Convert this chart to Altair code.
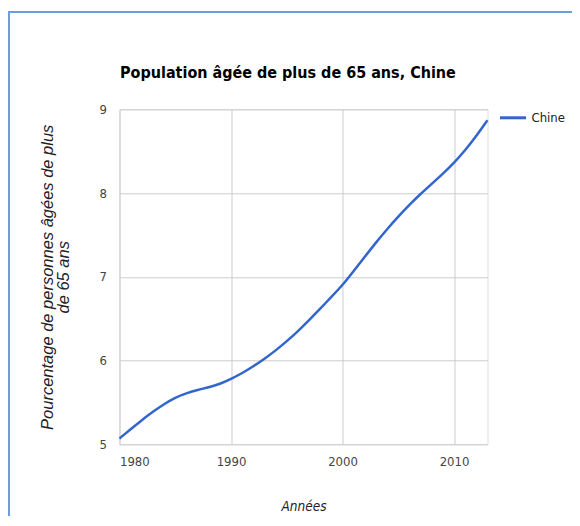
import altair as alt
import pandas as pd

years = list(range(1980, 2014))
values = [5.07, 5.18, 5.29, 5.39, 5.48, 5.56, 5.61, 5.65, 5.68, 5.72,
          5.78, 5.85, 5.93, 6.02, 6.12, 6.23, 6.35, 6.48, 6.62, 6.76,
          6.90, 7.07, 7.24, 7.41, 7.57, 7.72, 7.86, 7.99, 8.11, 8.23,
          8.36, 8.51, 8.68, 8.87]
series = ["Chine"] * len(years)
x_ticks = [1980, 1990, 2000, 2010]
y_ticks = [5, 6, 7, 8, 9]
chart_title = "Population âgée de plus de 65 ans, Chine"
x_title = "Années"
y_title = ["Pourcentage de personnes âgées de plus", "de 65 ans"]

df = pd.DataFrame({"year": years, "value": values, "series": series})

NARROW = "DejaVu Sans Condensed, Liberation Sans Narrow, Arial Narrow, sans-serif"

line = alt.Chart(df).mark_line(interpolate="basis", strokeWidth=2.5).encode(
    x=alt.X("year:Q",
            scale=alt.Scale(domain=[1980, 2013], nice=False, zero=False),
            axis=alt.Axis(values=x_ticks, format="d", title=x_title,
                          titleFontStyle="italic", titleFontWeight="normal",
                          titleFont=NARROW, titleFontSize=13.5, titleColor="#222222",
                          titlePadding=31,
                          labelFont=NARROW, labelFontSize=13, labelColor="#444444",
                          labelPadding=11, ticks=False, domain=False,
                          gridColor="#cccccc")),
    y=alt.Y("value:Q",
            scale=alt.Scale(domain=[5, 9], nice=False, zero=False),
            axis=alt.Axis(values=y_ticks, title=y_title,
                          titleFontStyle="italic", titleFontWeight="normal",
                          titleFont="Liberation Sans, Arial, sans-serif", titleFontSize=16.5,
                          titleColor="#222222", titleLineHeight=16,
                          titleX=-80, titleY=167.5, titleAngle=270, titleBaseline="top",
                          titleAlign="center",
                          labelFont=NARROW, labelFontSize=13, labelColor="#444444",
                          labelPadding=13, ticks=False, domain=False,
                          gridColor="#cccccc")),
    color=alt.Color("series:N", scale=alt.Scale(range=["#3366cc"]),
                    legend=alt.Legend(title=None, orient="none", legendX=379, legendY=-6,
                                      padding=0,
                                      symbolType="stroke", symbolSize=676,
                                      symbolStrokeWidth=3, labelFont=NARROW,
                                      labelFontSize=13, labelColor="#222222",
                                      labelOffset=4)),
)

title_text = alt.Chart(alt.Data(values=[{}])).mark_text(
    align="left", baseline="alphabetic", font=NARROW, fontSize=16,
    fontWeight="bold", color="#000000").encode(
    x=alt.value(0.5), y=alt.value(-31), text=alt.value(chart_title))

border_left = alt.Chart(alt.Data(values=[{}])).mark_rule(color="#6b9fd9", strokeWidth=2).encode(
    x=alt.value(-110.5), y=alt.value(-98.3), y2=alt.value(420))
border_top = alt.Chart(alt.Data(values=[{}])).mark_rule(color="#6b9fd9", strokeWidth=2).encode(
    y=alt.value(-97.3), x=alt.value(-111.5), x2=alt.value(470))

chart = alt.layer(border_left, border_top, title_text, line).properties(
    width=368, height=335,
    autosize=alt.AutoSizeParams(type="none"),
    padding={"left": 111.5, "top": 101.3, "right": 84, "bottom": 72},
).configure_view(stroke=None).configure(background="white")

chart.save("out.html", embed_options={"renderer": "svg", "actions": False})
